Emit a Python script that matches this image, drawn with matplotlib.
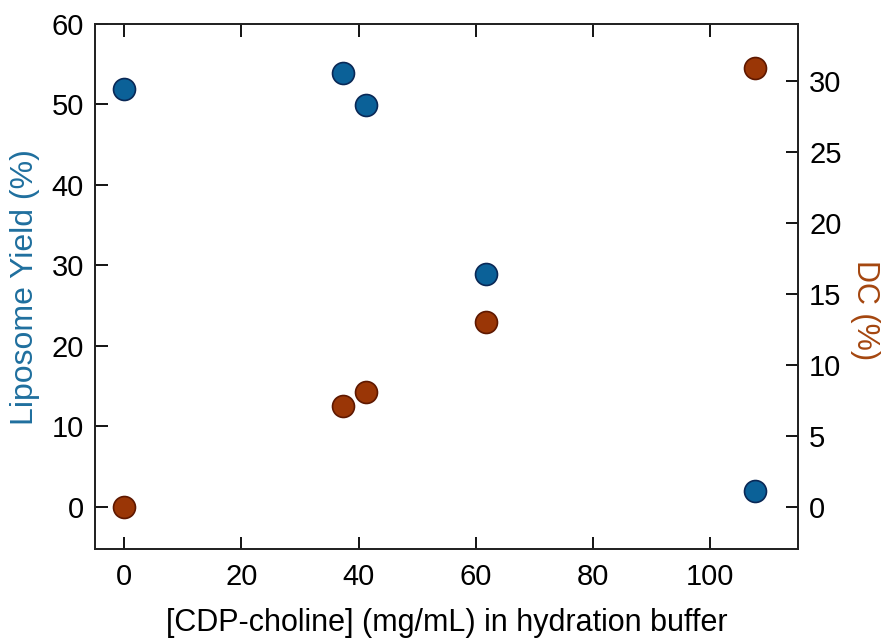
import matplotlib.pyplot as plt

# CDP-choline concentration (mg/mL)
conc = [0, 37.4, 41.3, 61.8, 107.7]
yield_pct = [51.9, 53.9, 49.9, 28.9, 1.9]
dc_pct = [0.0, 7.1, 8.1, 13.0, 30.9]

blue = '#0b6198'
blue_edge = '#0a2856'
rust = '#9a3606'
rust_edge = '#5e1800'
blue_txt = '#1f6f9e'
rust_txt = '#a4460f'

plt.rcParams['font.family'] = ['Liberation Sans', 'DejaVu Sans']

fig = plt.figure(figsize=(8.85, 6.41), dpi=100)
ax = fig.add_axes([0.1073, 0.143, 0.7944, 0.8196])
ax2 = ax.twinx()

ax.scatter(conc, yield_pct, s=250, c=blue, edgecolors=blue_edge, linewidths=1.2, zorder=3)
ax2.scatter(conc, dc_pct, s=250, c=rust, edgecolors=rust_edge, linewidths=1.2, zorder=3)

ax.set_xlim(-5, 115)
ax.set_ylim(-5.3, 60)
ax2.set_ylim(-3, 34)
ax.set_xticks([0, 20, 40, 60, 80, 100])
ax.set_yticks([0, 10, 20, 30, 40, 50, 60])
ax2.set_yticks([0, 5, 10, 15, 20, 25, 30])

ax.tick_params(axis='x', direction='in', length=9, width=1.3, top=True, labelsize=21, pad=10)
ax.tick_params(axis='y', direction='in', length=9, width=1.3, labelsize=21, pad=8)
ax2.tick_params(axis='y', direction='in', length=9, width=1.3, labelsize=21, pad=8)

for a in (ax, ax2):
    for sp in a.spines.values():
        sp.set_linewidth(1.3)
        sp.set_color('#222222')

ax.set_xlabel('[CDP-choline] (mg/mL) in hydration buffer', fontsize=22, labelpad=12)
ax.set_ylabel('Liposome Yield (%)', fontsize=23, color=blue_txt, va='center')
ax.yaxis.set_label_coords(-0.1, 0.5)
ax2.set_ylabel('DC (%)', fontsize=22, color=rust_txt, rotation=270, va='center')
ax2.yaxis.set_label_coords(1.095, 0.455)

fig.savefig('out.png', dpi=100)
